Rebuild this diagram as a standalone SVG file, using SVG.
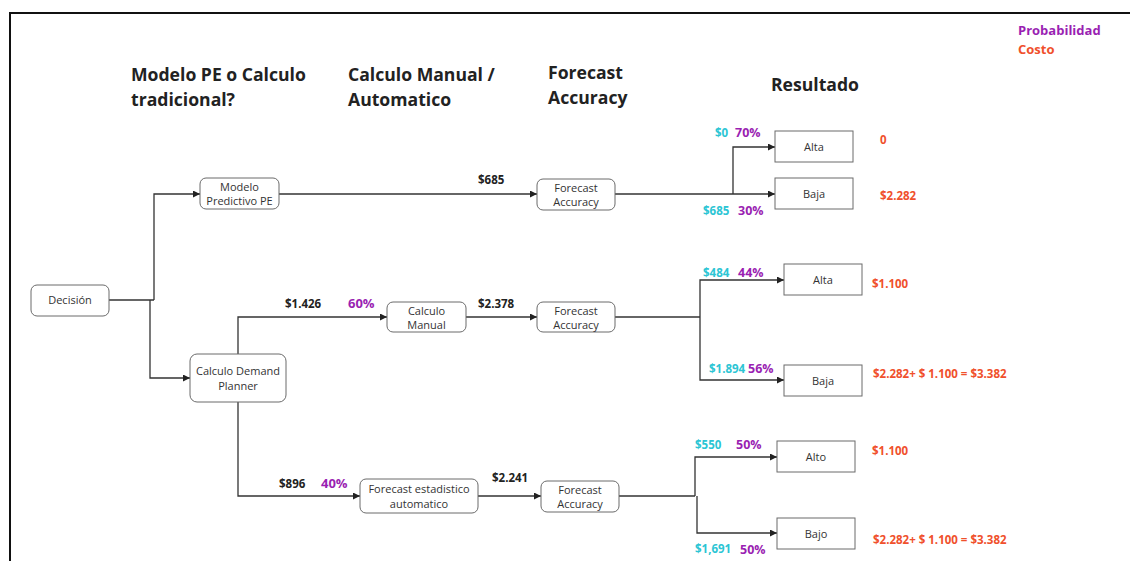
<svg xmlns="http://www.w3.org/2000/svg" width="1130" height="561" viewBox="0 0 1130 561">
<style>
.node{fill:#fff;stroke:#6b6b6b;stroke-width:1}
.nt{font-family:"Open Sans","DejaVu Sans",sans-serif;font-size:11px;fill:#333;text-anchor:middle}
.hd{font-family:"Open Sans","DejaVu Sans",sans-serif;font-size:17.6px;font-weight:bold;fill:#222}
.lb{font-family:"Open Sans","DejaVu Sans",sans-serif;font-size:11.5px;font-weight:bold}
.k{fill:#222}.c{fill:#2cc5d4}.p{fill:#9a1fb2}.o{fill:#f0502c}
.ln{fill:none;stroke:#333;stroke-width:1.3;marker-end:url(#ah)}
.ln2{fill:none;stroke:#333;stroke-width:1.3}
</style>
<defs>
<marker id="ah" viewBox="0 0 10 10" refX="10" refY="5" markerWidth="7" markerHeight="7" markerUnits="userSpaceOnUse" orient="auto">
<path d="M0,0 L10,5 L0,10 z" fill="#222"/>
</marker>
</defs>
<rect width="1130" height="561" fill="#fff"/>
<path d="M10,561 V13 H1130" fill="none" stroke="#111" stroke-width="2"/>
<g id="headers">
<text class="hd" x="131" y="81">Modelo PE o Calculo</text>
<text class="hd" x="131" y="106">tradicional?</text>
<text class="hd" x="348" y="81">Calculo Manual /</text>
<text class="hd" x="348" y="106">Automatico</text>
<text class="hd" x="548" y="79">Forecast</text>
<text class="hd" x="548" y="104">Accuracy</text>
<text class="hd" x="771" y="91">Resultado</text>
</g>
<g id="legend">
<text class="lb p" x="1018" y="35" style="font-size:13px">Probabilidad</text>
<text class="lb o" x="1018" y="54" style="font-size:13px">Costo</text>
</g>
<g id="connectors">
<path class="ln2" d="M109,300 H154"/>
<path class="ln" d="M154,300 V194 H200"/>
<path class="ln" d="M150,300 V378 H190"/>
<path class="ln" d="M279,194 H537"/>
<path class="ln2" d="M615,194 H733"/>
<path class="ln" d="M733,194 V147 H775"/>
<path class="ln" d="M733,194 H775"/>
<path class="ln" d="M238,354 V317 H387"/>
<path class="ln" d="M466,317 H537"/>
<path class="ln2" d="M615,317 H700"/>
<path class="ln" d="M700,317 V280 H784"/>
<path class="ln" d="M700,317 V380 H784"/>
<path class="ln" d="M238,402 V496 H360"/>
<path class="ln" d="M478,496 H541"/>
<path class="ln2" d="M619,496 H695"/>
<path class="ln" d="M695,496 V457 H777"/>
<path class="ln" d="M697,496 V533 H777"/>
</g>
<g id="decision"><rect class="node" x="31" y="285" width="78" height="31" rx="6"/><text class="nt" x="70" y="304">Decisión</text></g>
<g id="modelo-pe"><rect class="node" x="200" y="178" width="79" height="31" rx="6"/><text class="nt" x="239.5" y="191">Modelo</text><text class="nt" x="239.5" y="205">Predictivo PE</text></g>
<g id="demand-planner"><rect class="node" x="190" y="354" width="96" height="48" rx="7"/><text class="nt" x="238" y="375">Calculo Demand</text><text class="nt" x="238" y="390">Planner</text></g>
<g id="calculo-manual"><rect class="node" x="387" y="302" width="79" height="30" rx="6"/><text class="nt" x="426.5" y="315">Calculo</text><text class="nt" x="426.5" y="329">Manual</text></g>
<g id="fa-top"><rect class="node" x="537" y="179" width="78" height="31" rx="6"/><text class="nt" x="576" y="192">Forecast</text><text class="nt" x="576" y="206">Accuracy</text></g>
<g id="fa-mid"><rect class="node" x="537" y="302" width="78" height="30" rx="6"/><text class="nt" x="576" y="315">Forecast</text><text class="nt" x="576" y="329">Accuracy</text></g>
<g id="forecast-auto"><rect class="node" x="360" y="479" width="118" height="34" rx="6"/><text class="nt" x="419" y="493">Forecast estadistico</text><text class="nt" x="419" y="508">automatico</text></g>
<g id="fa-bot"><rect class="node" x="541" y="481" width="78" height="31" rx="6"/><text class="nt" x="580" y="494">Forecast</text><text class="nt" x="580" y="508">Accuracy</text></g>
<g id="alta-top"><rect class="node" x="775" y="131" width="78" height="31"/><text class="nt" x="814" y="151">Alta</text></g>
<g id="baja-top"><rect class="node" x="775" y="178" width="78" height="31"/><text class="nt" x="814" y="198">Baja</text></g>
<g id="alta-mid"><rect class="node" x="784" y="264" width="78" height="31"/><text class="nt" x="823" y="284">Alta</text></g>
<g id="baja-mid"><rect class="node" x="784" y="365" width="78" height="31"/><text class="nt" x="823" y="385">Baja</text></g>
<g id="alto-bot"><rect class="node" x="777" y="441" width="78" height="31"/><text class="nt" x="816" y="461">Alto</text></g>
<g id="bajo-bot"><rect class="node" x="777" y="518" width="78" height="31"/><text class="nt" x="816" y="538">Bajo</text></g>
<g id="labels">
<text class="lb k" x="478" y="184">$685</text>
<text class="lb c" x="715" y="137">$0</text><text class="lb p" x="735" y="137" style="font-size:12.5px">70%</text>
<text class="lb c" x="703" y="215">$685</text><text class="lb p" x="738" y="215" style="font-size:12.5px">30%</text>
<text class="lb o" x="880" y="144">0</text>
<text class="lb o" x="880" y="200">$2.282</text>
<text class="lb k" x="285" y="308">$1.426</text><text class="lb p" x="348" y="308" style="font-size:13px">60%</text>
<text class="lb k" x="478" y="308">$2.378</text>
<text class="lb c" x="703" y="277">$484</text><text class="lb p" x="738" y="277" style="font-size:12.5px">44%</text>
<text class="lb c" x="709" y="373">$1.894</text><text class="lb p" x="748" y="373" style="font-size:12.5px">56%</text>
<text class="lb o" x="872" y="288">$1.100</text>
<text class="lb o" x="873" y="378">$2.282+ $ 1.100 = $3.382</text>
<text class="lb k" x="279" y="488">$896</text><text class="lb p" x="321" y="488" style="font-size:13px">40%</text>
<text class="lb k" x="492" y="482">$2.241</text>
<text class="lb c" x="695" y="449">$550</text><text class="lb p" x="736" y="449" style="font-size:12.5px">50%</text>
<text class="lb c" x="695" y="553">$1,691</text><text class="lb p" x="740" y="554" style="font-size:12.5px">50%</text>
<text class="lb o" x="872" y="455">$1.100</text>
<text class="lb o" x="873" y="544">$2.282+ $ 1.100 = $3.382</text>
</g>
</svg>
